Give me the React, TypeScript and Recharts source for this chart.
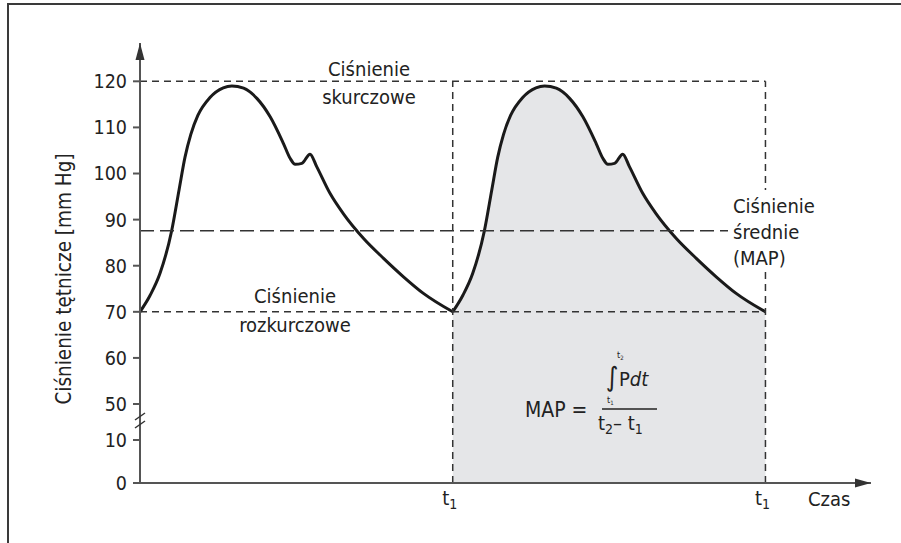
import React from "react";
import { Area, ComposedChart, Line, ReferenceDot, ReferenceLine, XAxis, YAxis } from "recharts";

// one heart cycle (time in s, pressure in mm Hg)
const cycleTime = [0, 0.026, 0.051, 0.081, 0.1, 0.115, 0.13, 0.148, 0.179, 0.213, 0.235, 0.265, 0.299, 0.333, 0.367, 0.384, 0.397, 0.414, 0.435, 0.452, 0.486, 0.52, 0.572, 0.623, 0.674, 0.725, 0.8];
const cyclePressure = [70, 73.6, 78.3, 87.6, 96.5, 103.5, 108.5, 112.6, 116.5, 118.6, 119, 118.5, 116.3, 112.3, 106.5, 103.3, 102, 102.2, 104.2, 101.5, 95.7, 91.3, 85.9, 81.6, 77.6, 74, 70];
const cycleStarts = [0, 0.8];
const yTickValues = [0, 10, 50, 60, 70, 80, 90, 100, 110, 120];
const systolic = 120;
const diastolic = 70;
const meanPressure = 87.6;
const xMax = 1.87;

const FONT = '"Liberation Sans Narrow", "DejaVu Sans Condensed", "Arial Narrow", sans-serif';
const INK = "#222";
const AXIS = "#555";

// broken y axis: 0-10 and 50-120 kept, 10-50 squeezed
const toPlot = (v: number) => (v <= 10 ? v * 0.933 : v <= 50 ? 9.33 + (v - 10) * 0.195 : 17.13 + (v - 50));
const yTop = 95.44;

const data: Array<{ t: number; p1: number | null; p2: number | null }> = [];
cycleStarts.forEach((start, ci) => {
  cycleTime.forEach((dt, i) => {
    const t = +(start + dt).toFixed(3);
    const v = toPlot(cyclePressure[i]);
    const hit = data.find((r) => r.t === t);
    if (hit) {
      if (ci === 1) hit.p2 = v;
      return;
    }
    data.push({ t, p1: ci === 0 ? v : null, p2: ci === 1 ? v : null });
  });
});

const tickLabel = new Map(yTickValues.map((v) => [+toPlot(v).toFixed(3), String(v)]));

function XTick(props: any) {
  const { x, y } = props;
  return (
    <text x={x - 3} y={y + 14} textAnchor="middle" fontFamily={FONT} fontSize={20} fill={INK}>
      t<tspan dy={4} fontSize={14}>1</tspan>
    </text>
  );
}

const ArrowRight = (p: any) => <polygon points={`${p.cx},${p.cy} ${p.cx - 16},${p.cy - 4.5} ${p.cx - 16},${p.cy + 4.5}`} fill="#333" />;
const ArrowUp = (p: any) => <polygon points={`${p.cx},${p.cy} ${p.cx - 4.5},${p.cy + 17} ${p.cx + 4.5},${p.cy + 17}`} fill="#333" />;

const dashShort = "7 5";
const dashLong = "14 6";

export default function App() {
  return (
    <div style={{ position: "fixed", left: 0, top: 0, width: 901, height: 543, overflow: "hidden", background: "#fff" }}>
      <div style={{ position: "absolute", left: 7, top: 3, width: 1000, height: 1000, border: "2px solid #3a3a3a" }} />
      <div style={{ position: "absolute", left: 0, top: 0 }}>
        <ComposedChart width={901} height={543} data={data} margin={{ top: 43, right: 30, bottom: 0, left: 0 }}>
          <XAxis
            dataKey="t"
            type="number"
            domain={[0, xMax]}
            ticks={[0.8, 1.6]}
            tick={<XTick />}
            tickLine={false}
            axisLine={{ stroke: AXIS, strokeWidth: 2 }}
            height={60}
            allowDataOverflow
          />
          <YAxis
            type="number"
            domain={[0, yTop]}
            ticks={yTickValues.map(toPlot)}
            tickFormatter={(v: number) => tickLabel.get(+v.toFixed(3)) ?? ""}
            tick={{ fontFamily: FONT, fontSize: 19.5, fill: INK }}
            tickLine={{ stroke: AXIS, strokeWidth: 2 }}
            tickSize={7}
            tickMargin={6}
            axisLine={{ stroke: AXIS, strokeWidth: 2 }}
            width={140}
            allowDataOverflow
            interval={0}
          />
          <Area dataKey="p2" type="monotone" fill="#e5e6e8" fillOpacity={1} stroke="#1a1a1a" strokeWidth={3} isAnimationActive={false} />
          <Line dataKey="p1" type="monotone" stroke="#1a1a1a" strokeWidth={3} dot={false} isAnimationActive={false} />
          <ReferenceLine segment={[{ x: 0, y: toPlot(systolic) }, { x: 1.6, y: toPlot(systolic) }]} stroke="#333" strokeWidth={1.5} strokeDasharray={dashShort} />
          <ReferenceLine segment={[{ x: 0, y: toPlot(diastolic) }, { x: 1.6, y: toPlot(diastolic) }]} stroke="#333" strokeWidth={1.5} strokeDasharray={dashShort} />
          <ReferenceLine segment={[{ x: 0, y: toPlot(meanPressure) }, { x: 1.6, y: toPlot(meanPressure) }]} stroke="#333" strokeWidth={1.5} strokeDasharray={dashLong} />
          {cycleStarts.map((s) => (
            <ReferenceLine key={s} segment={[{ x: s + 0.8, y: 0 }, { x: s + 0.8, y: toPlot(systolic) }]} stroke="#333" strokeWidth={1.5} strokeDasharray={dashShort} />
          ))}
          <ReferenceDot x={xMax} y={0} r={0} shape={ArrowRight} ifOverflow="visible" />
          <ReferenceDot x={0} y={yTop} r={0} shape={ArrowUp} ifOverflow="visible" />
        </ComposedChart>
      </div>
      <svg width={901} height={543} style={{ position: "absolute", left: 0, top: 0, pointerEvents: "none" }} fontFamily={FONT} fill={INK}>
        {/* axis break */}
        <line x1={135} y1={420} x2={145} y2={413} stroke="#333" strokeWidth={1.5} />
        <line x1={135} y1={428} x2={145} y2={421} stroke="#333" strokeWidth={1.5} />
        <text x={64} y={279} transform="rotate(-90 64 279)" textAnchor="middle" dominantBaseline="central" fontSize={20.5}>
          Ciśnienie tętnicze [mm Hg]
        </text>
        <text textAnchor="middle" fontSize={20}>
          <tspan x={369} y={76}>Ciśnienie</tspan>
          <tspan x={369} y={104}>skurczowe</tspan>
        </text>
        <text textAnchor="middle" fontSize={20}>
          <tspan x={295} y={303}>Ciśnienie</tspan>
          <tspan x={295} y={332}>rozkurczowe</tspan>
        </text>
        <rect x={728} y={190} width={95} height={82} fill="#fff" />
        <text fontSize={20}>
          <tspan x={733} y={213}>Ciśnienie</tspan>
          <tspan x={733} y={239}>średnie</tspan>
          <tspan x={733} y={265}>(MAP)</tspan>
        </text>
        <text x={808} y={506} fontSize={20}>Czas</text>
        {/* formula */}
        <text x={525} y={417} fontSize={21}>MAP =</text>
        <text x={606} y={386} fontSize={27}>∫</text>
        <text x={619} y={386} fontSize={20}>
          P<tspan fontStyle="italic">dt</tspan>
        </text>
        <text x={617} y={358} fontSize={9}>t<tspan dy={2} fontSize={6}>2</tspan></text>
        <text x={607} y={403} fontSize={9}>t<tspan dy={2} fontSize={6}>1</tspan></text>
        <line x1={602} y1={409} x2={657} y2={409} stroke="#222" strokeWidth={1.5} />
        <text x={598} y={430} fontSize={20}>
          t<tspan dy={4} fontSize={14}>2</tspan>
          <tspan dy={-4}>– t</tspan>
          <tspan dy={4} fontSize={14}>1</tspan>
        </text>
      </svg>
    </div>
  );
}
